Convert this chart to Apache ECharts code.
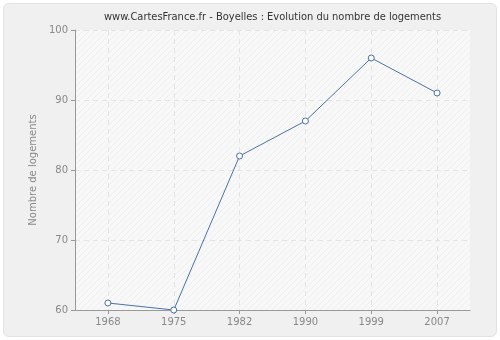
<!DOCTYPE html>
<html><head><meta charset="utf-8">
<script src="https://cdn.jsdelivr.net/npm/echarts@6/dist/echarts.min.js"></script>
<style>
html,body{margin:0;padding:0;background:#fff;}
#wrap{position:absolute;left:3px;top:3px;width:492px;height:332px;background:#f0f0f0;border:1px solid #e2e2e2;border-radius:6px;}
#c{position:absolute;left:0;top:0;width:500px;height:340px;}
</style></head>
<body><div id="wrap"></div><div id="c"></div>
<script>
const years = ['1968','1975','1982','1990','1999','2007'];
const logements = [61, 60, 82, 87, 96, 91];
const yTicks = {min: 60, max: 100, interval: 10};
const titleText = 'www.CartesFrance.fr - Boyelles : Evolution du nombre de logements';
const yName = 'Nombre de logements';

function hatch(){
  const c = document.createElement('canvas'); c.width = 6; c.height = 6;
  const g = c.getContext('2d');
  g.fillStyle = '#f8f8f8'; g.fillRect(0,0,6,6);
  g.strokeStyle = '#efefef'; g.lineWidth = 1;
  g.beginPath(); g.moveTo(0,6); g.lineTo(6,0); g.moveTo(-1,1); g.lineTo(1,-1); g.moveTo(5,7); g.lineTo(7,5); g.stroke();
  return c;
}
const chart = echarts.init(document.getElementById('c'), null, {renderer:'canvas'});
const font = 'DejaVu Sans';
chart.setOption({
  backgroundColor: 'transparent',
  animation: false,
  title: {text: titleText, left: 99, top: 7, textStyle: {fontFamily: 'DejaVu Sans Condensed', fontSize: 11, fontWeight: 'normal', color: '#333'}},
  grid: {left: 75, right: 30, top: 30, bottom: 30, show: true, backgroundColor: {image: hatch(), repeat: 'repeat'}, borderWidth: 0},
  xAxis: {
    type: 'category', data: years, boundaryGap: true,
    axisLine: {lineStyle: {color: '#999'}},
    axisTick: {show: true, alignWithLabel: true, length: 4, lineStyle: {color: '#999'}},
    axisLabel: {color: '#888', fontFamily: font, fontSize: 10, margin: 7},
    splitLine: {show: true, alignWithLabel: true, lineStyle: {color: '#e4e4e4', type: [5,4]}}
  },
  yAxis: {
    type: 'value', min: yTicks.min, max: yTicks.max, interval: yTicks.interval,
    name: yName, nameLocation: 'middle', nameGap: 29, nameRotate: 90,
    nameTextStyle: {color: '#888', fontFamily: font, fontSize: 10},
    axisLine: {show: true, lineStyle: {color: '#999'}},
    axisTick: {show: true, length: 4, lineStyle: {color: '#999'}},
    axisLabel: {color: '#888', fontFamily: font, fontSize: 10, margin: 7},
    splitLine: {show: true, lineStyle: {color: '#e4e4e4', type: [5,4]}}
  },
  series: [{
    type: 'line', data: logements, symbol: 'circle', symbolSize: 6,
    lineStyle: {color: '#4a72a6', width: 1},
    itemStyle: {color: '#fff', borderColor: '#4a72a6', borderWidth: 1}
  }]
});
</script></body></html>
